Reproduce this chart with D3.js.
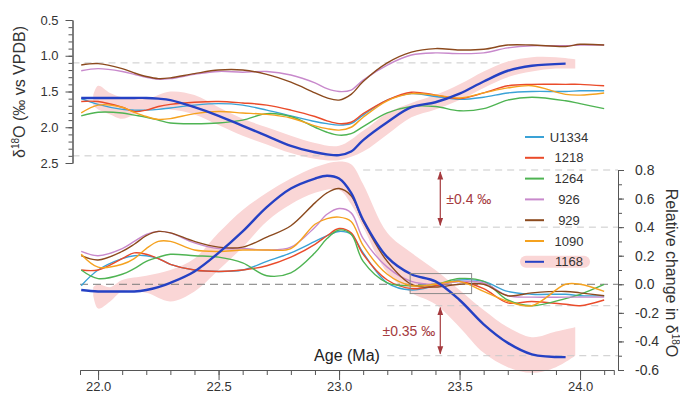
<!DOCTYPE html>
<html>
<head>
<meta charset="utf-8">
<script src="https://cdn.jsdelivr.net/npm/d3@7"></script>
<style>
body { margin: 0; background: #fff; }
svg { font-family: "Liberation Sans", Arial, sans-serif; }
</style>
</head>
<body>
<svg id="chart" width="680" height="396"></svg>
<script>
// ages shared by all site curves (Ma)
const ages = [21.93, 22.0, 22.1, 22.15, 22.2, 22.25, 22.3, 22.4, 22.5, 22.6, 22.7, 22.8, 22.9, 22.95,
              23.0, 23.05, 23.1, 23.2, 23.3, 23.4, 23.5, 23.6, 23.7, 23.8, 23.94, 24.0, 24.1];

const siteNames = ["U1334", "1218", "1264", "926", "929", "1090", "1168"];
const siteColors = ["#3aa2d6", "#ea4b2a", "#4fb453", "#c889cc", "#8c4a1e", "#f5a21f", "#2541c4"];

// upper panel, d18O (per mil vs VPDB)
const topU1334 = [1.60, 1.68, 1.75, 1.76, 1.76, 1.75, 1.73, 1.69, 1.67, 1.69, 1.76, 1.84, 1.92, 1.95, 1.97, 1.95, 1.83, 1.62, 1.53, 1.57, 1.61, 1.58, 1.52, 1.50, 1.50, 1.49, 1.49];
const top1218  = [1.64, 1.64, 1.72, 1.78, 1.76, 1.71, 1.68, 1.65, 1.64, 1.66, 1.69, 1.76, 1.85, 1.91, 1.95, 1.93, 1.81, 1.62, 1.51, 1.55, 1.60, 1.52, 1.42, 1.40, 1.40, 1.40, 1.42];
const top1264  = [1.84, 1.79, 1.80, 1.83, 1.86, 1.90, 1.94, 1.95, 1.94, 1.90, 1.81, 1.85, 2.00, 2.07, 2.11, 2.09, 1.99, 1.80, 1.71, 1.71, 1.77, 1.74, 1.62, 1.58, 1.63, 1.67, 1.74];
const top926   = [1.21, 1.18, 1.22, 1.26, 1.30, 1.33, 1.32, 1.26, 1.22, 1.23, 1.22, 1.27, 1.38, 1.46, 1.50, 1.48, 1.34, 1.13, 0.99, 0.96, 0.97, 0.96, 0.89, 0.86, 0.86, 0.85, 0.85];
const top929   = [1.13, 1.11, 1.18, 1.24, 1.29, 1.32, 1.31, 1.25, 1.20, 1.20, 1.26, 1.37, 1.52, 1.59, 1.62, 1.54, 1.36, 1.10, 0.95, 0.90, 0.92, 0.91, 0.85, 0.85, 0.87, 0.84, 0.85];
const top1090  = [1.80, 1.69, 1.72, 1.79, 1.85, 1.89, 1.88, 1.81, 1.78, 1.80, 1.82, 1.87, 1.98, 2.02, 2.04, 2.00, 1.86, 1.63, 1.53, 1.55, 1.59, 1.52, 1.45, 1.42, 1.54, 1.55, 1.52];
const top1168  = [1.59, 1.59, 1.59, 1.59, 1.59, 1.60, 1.62, 1.72, 1.84, 1.98, 2.12, 2.26, 2.35, 2.38, 2.39, 2.34, 2.18, 1.93, 1.72, 1.65, 1.53, 1.36, 1.21, 1.14, 1.11, null, null];

// lower panel, relative change in d18O
const relU1334 = [-0.01, 0.10, 0.18, 0.20, 0.20, 0.18, 0.14, 0.10, 0.09, 0.10, 0.16, 0.22, 0.30, 0.34, 0.37, 0.35, 0.22, 0.01, -0.04, -0.01, 0.03, 0.02, -0.05, -0.07, -0.07, -0.08, -0.08];
const rel1218  = [0.10, 0.10, 0.18, 0.22, 0.21, 0.18, 0.14, 0.10, 0.09, 0.10, 0.13, 0.19, 0.28, 0.34, 0.39, 0.36, 0.21, 0.03, -0.03, -0.01, 0.02, -0.03, -0.13, -0.12, -0.14, -0.15, -0.11];
const rel1264  = [0.10, 0.04, 0.07, 0.11, 0.16, 0.19, 0.21, 0.20, 0.19, 0.15, 0.06, 0.08, 0.22, 0.32, 0.38, 0.35, 0.16, 0.01, -0.01, 0.00, 0.04, 0.02, -0.11, -0.15, -0.10, -0.07, 0.00];
const rel926   = [0.23, 0.20, 0.25, 0.30, 0.35, 0.37, 0.36, 0.29, 0.25, 0.25, 0.24, 0.26, 0.40, 0.49, 0.53, 0.50, 0.32, 0.12, 0.02, 0.00, 0.02, 0.01, -0.08, -0.09, -0.09, -0.09, -0.09];
const rel929   = [0.20, 0.17, 0.23, 0.28, 0.34, 0.37, 0.36, 0.30, 0.26, 0.26, 0.33, 0.41, 0.57, 0.64, 0.67, 0.62, 0.44, 0.16, 0.00, -0.02, 0.00, 0.00, -0.08, -0.06, -0.05, -0.06, -0.08];
const rel1090  = [0.21, 0.12, 0.14, 0.18, 0.25, 0.30, 0.30, 0.24, 0.23, 0.24, 0.24, 0.25, 0.42, 0.46, 0.47, 0.44, 0.27, 0.07, -0.01, 0.00, 0.02, -0.05, -0.12, -0.15, 0.00, 0.00, -0.05];
const rel1168  = [-0.04, -0.05, -0.05, -0.05, -0.04, -0.02, 0.01, 0.09, 0.22, 0.37, 0.54, 0.67, 0.74, 0.76, 0.74, 0.64, 0.45, 0.19, 0.07, 0.02, -0.11, -0.28, -0.41, -0.49, -0.51, null, null];

// pink envelopes around 1168
const bandTopAges = [21.98, 22.0, 22.05, 22.1, 22.2, 22.3, 22.4, 22.5, 22.6, 22.7, 22.8, 22.9, 23.0, 23.1, 23.2, 23.3, 23.4, 23.5, 23.6, 23.7, 23.8, 23.9, 23.98];
const bandTopLow  = [1.55, 1.42, 1.52, 1.58, 1.60, 1.50, 1.55, 1.72, 1.88, 2.00, 2.12, 2.22, 2.26, 2.05, 1.80, 1.66, 1.55, 1.40, 1.22, 1.08, 1.02, 1.02, 1.05];
const bandTopHigh = [1.70, 1.75, 1.82, 1.88, 1.75, 1.75, 1.82, 1.97, 2.12, 2.24, 2.36, 2.44, 2.46, 2.34, 2.10, 1.86, 1.75, 1.62, 1.45, 1.30, 1.22, 1.18, 1.18];

const bandRelAges = [21.98, 22.0, 22.05, 22.1, 22.2, 22.3, 22.4, 22.5, 22.6, 22.7, 22.8, 22.9, 23.0, 23.05, 23.1, 23.2, 23.3, 23.4, 23.5, 23.6, 23.7, 23.8, 23.9, 23.98];
const bandRelHigh = [-0.02, 0.00, -0.02, 0.03, 0.06, 0.10, 0.18, 0.36, 0.52, 0.64, 0.74, 0.82, 0.86, 0.84, 0.70, 0.36, 0.22, 0.10, -0.04, -0.18, -0.30, -0.37, -0.33, -0.30];
const bandRelLow  = [-0.08, -0.17, -0.12, -0.05, -0.06, -0.12, -0.05, 0.10, 0.26, 0.44, 0.56, 0.64, 0.66, 0.56, 0.40, 0.08, -0.06, -0.14, -0.30, -0.48, -0.58, -0.62, -0.58, -0.50];

// reference lines and annotations (data units)
const topGuideValues = [1.1, 2.4];
const topGuideEnds = [23.67, 23.0];
const relGuideValues = [0.8, 0.4, -0.15, -0.5];
const relGuideStarts = [23.1, 23.24, 23.2, 23.2];
const arrowAge = 23.42;
const arrowRanges = [[0.8, 0.4], [-0.15, -0.5]];
const arrowLabels = ["\u00b10.4 \u2030", "\u00b10.35 \u2030"];
const boxAges = [23.295, 23.55];
const boxValues = [-0.065, 0.075];

const topSeries = [topU1334, top1218, top1264, top926, top929, top1090, top1168];
const relSeries = [relU1334, rel1218, rel1264, rel926, rel929, rel1090, rel1168];

const svg = d3.select("#chart");

let x = d3.scaleLinear().domain([21.925, 24.14]).range([80, 613.8]);
let yTop = d3.scaleLinear().domain([0.5, 2.5]).range([20, 163]);
let yRel = d3.scaleLinear().domain([-0.6, 0.8]).range([370, 170]);

let fmt = d => d3.format(".1f")(d).replace("\u2212", "-");

// pink bands
let bandTop = d3.area()
    .x((d, i) => x(bandTopAges[i]))
    .y0((d, i) => yTop(bandTopLow[i]))
    .y1((d, i) => yTop(bandTopHigh[i]))
    .curve(d3.curveCatmullRom.alpha(0.5));
svg.append("path").attr("d", bandTop(bandTopAges)).style("fill", "#fad6d6");

let bandRel = d3.area()
    .x((d, i) => x(bandRelAges[i]))
    .y0((d, i) => yRel(bandRelLow[i]))
    .y1((d, i) => yRel(bandRelHigh[i]))
    .curve(d3.curveCatmullRom.alpha(0.5));
svg.append("path").attr("d", bandRel(bandRelAges)).style("fill", "#fad6d6");

// dashed guides
for (let i in topGuideValues) {
    svg.append("line")
        .attr("x1", 72.5).attr("x2", x(topGuideEnds[i]))
        .attr("y1", yTop(topGuideValues[i])).attr("y2", yTop(topGuideValues[i]))
        .style("stroke", "#c9c9c9").style("stroke-dasharray", "7,5");
}
for (let i in relGuideValues) {
    svg.append("line")
        .attr("x1", x(relGuideStarts[i])).attr("x2", 618)
        .attr("y1", yRel(relGuideValues[i])).attr("y2", yRel(relGuideValues[i]))
        .style("stroke", "#c9c9c9").style("stroke-dasharray", "7,5");
}
svg.append("line")
    .attr("x1", x(21.925)).attr("x2", 618)
    .attr("y1", yRel(0)).attr("y2", yRel(0))
    .style("stroke", "#7a7a7a").style("stroke-dasharray", "8,5");

// site curves
for (let i in siteNames) {
    let w = siteNames[i] == "1168" ? 2.4 : 1.4;
    let lineTop = d3.line()
        .defined(d => d != null)
        .x((d, j) => x(ages[j]))
        .y(d => yTop(d))
        .curve(d3.curveCatmullRom.alpha(0.5));
    let lineRel = d3.line()
        .defined(d => d != null)
        .x((d, j) => x(ages[j]))
        .y(d => yRel(d))
        .curve(d3.curveCatmullRom.alpha(0.5));

    svg.append("path").attr("d", lineTop(topSeries[i]))
        .style("fill", "none").style("stroke", siteColors[i]).style("stroke-width", w);
    svg.append("path").attr("d", lineRel(relSeries[i]))
        .style("fill", "none").style("stroke", siteColors[i]).style("stroke-width", w);
}

// reference window box
svg.append("rect")
    .attr("x", x(boxAges[0])).attr("y", yRel(boxValues[1]))
    .attr("width", x(boxAges[1]) - x(boxAges[0]))
    .attr("height", yRel(boxValues[0]) - yRel(boxValues[1]))
    .style("fill", "none").style("stroke", "#8a8a8a").style("stroke-width", 1);

// arrows
svg.append("defs").append("marker")
    .attr("id", "head")
    .attr("viewBox", "0 0 10 10")
    .attr("refX", 9).attr("refY", 5)
    .attr("markerWidth", 7).attr("markerHeight", 7)
    .attr("orient", "auto-start-reverse")
    .append("path").attr("d", "M0,1.5 L10,5 L0,8.5 Z").style("fill", "#a53a3e");

for (let i in arrowRanges) {
    svg.append("line")
        .attr("x1", x(arrowAge)).attr("x2", x(arrowAge))
        .attr("y1", yRel(arrowRanges[i][0]) + 2).attr("y2", yRel(arrowRanges[i][1]) - 2)
        .style("stroke", "#a53a3e").style("stroke-width", 1.2)
        .attr("marker-start", "url(#head)").attr("marker-end", "url(#head)");
}
svg.append("text")
    .attr("x", x(arrowAge) + 6).attr("y", yRel(0.6) + 5)
    .style("fill", "#a53a3e").style("font-size", "14px")
    .text(arrowLabels[0]);
svg.append("text")
    .attr("x", x(arrowAge) - 5).attr("y", yRel(-0.325) + 5)
    .attr("text-anchor", "end")
    .style("fill", "#a53a3e").style("font-size", "14px")
    .text(arrowLabels[1]);

// axes
function styleAxis(g) {
    g.select(".domain").style("stroke", "#555");
    g.selectAll(".tick line").style("stroke", "#555");
    g.selectAll("text").style("fill", "#333").style("font-size", "13px").style("font-family", "'Liberation Sans', Arial, sans-serif");
}

let leftMinor = svg.append("g").attr("transform", "translate(72.5,0)")
    .call(d3.axisLeft(yTop).tickValues(d3.range(5, 26).map(d => d / 10)).tickSize(4).tickSizeOuter(0).tickFormat(""));
let leftMajor = svg.append("g").attr("transform", "translate(72.5,0)")
    .call(d3.axisLeft(yTop).tickValues([0.5, 1.0, 1.5, 2.0, 2.5]).tickSize(7).tickSizeOuter(0).tickPadding(7).tickFormat(fmt));
styleAxis(leftMinor); styleAxis(leftMajor);

let bottomMinor = svg.append("g").attr("transform", "translate(0,370)")
    .call(d3.axisBottom(x).tickValues(d3.range(220, 242).map(d => d / 10)).tickSize(5).tickSizeOuter(5).tickFormat(""));
let bottomMajor = svg.append("g").attr("transform", "translate(0,370)")
    .call(d3.axisBottom(x).tickValues([22.0, 22.5, 23.0, 23.5, 24.0]).tickSize(10).tickSizeOuter(0).tickPadding(2).tickFormat(fmt));
styleAxis(bottomMinor); styleAxis(bottomMajor);

let rightMinor = svg.append("g").attr("transform", "translate(618,0)")
    .call(d3.axisRight(yRel).tickValues(d3.range(-6, 9).map(d => d / 10)).tickSize(4).tickSizeOuter(0).tickFormat(""));
let rightMajor = svg.append("g").attr("transform", "translate(618,0)")
    .call(d3.axisRight(yRel).tickValues([-0.6, -0.4, -0.2, 0.0, 0.2, 0.4, 0.6, 0.8]).tickSize(6).tickSizeOuter(0).tickPadding(11).tickFormat(fmt));
styleAxis(rightMinor); styleAxis(rightMajor);
rightMajor.selectAll("text").style("font-size", "14px");

// titles
let tl = svg.append("text")
    .attr("transform", "translate(25,92) rotate(-90)")
    .attr("text-anchor", "middle")
    .style("font-size", "16px").style("fill", "#333");
tl.append("tspan").text("\u03b4");
tl.append("tspan").attr("dy", -6).style("font-size", "10px").text("18");
tl.append("tspan").attr("dy", 6).text("O (\u2030 vs VPDB)");

let tr = svg.append("text")
    .attr("transform", "translate(666,273) rotate(90)")
    .attr("text-anchor", "middle")
    .style("font-size", "16px").style("fill", "#333");
tr.append("tspan").text("Relative change in \u03b4");
tr.append("tspan").attr("dy", -6).style("font-size", "10px").text("18");
tr.append("tspan").attr("dy", 6).text("O");

svg.append("text")
    .attr("x", 347).attr("y", 361)
    .attr("text-anchor", "middle")
    .style("font-size", "16px").style("fill", "#222")
    .text("Age (Ma)");

// legend
for (let i in siteNames) {
    let ly = 137 + i * 20.8;
    if (siteNames[i] == "1168") {
        svg.append("rect")
            .attr("x", 520).attr("y", ly - 6).attr("width", 70).attr("height", 12)
            .attr("rx", 6).attr("ry", 6)
            .style("fill", "#fad6d6");
    }
    svg.append("line")
        .attr("x1", 525).attr("x2", 544).attr("y1", ly).attr("y2", ly)
        .style("stroke", siteColors[i]).style("stroke-width", 2);
    svg.append("text")
        .attr("x", 569).attr("y", ly + 4.5)
        .attr("text-anchor", "middle")
        .style("font-size", "13px").style("fill", "#333")
        .text(siteNames[i]);
}
</script>
</body>
</html>
